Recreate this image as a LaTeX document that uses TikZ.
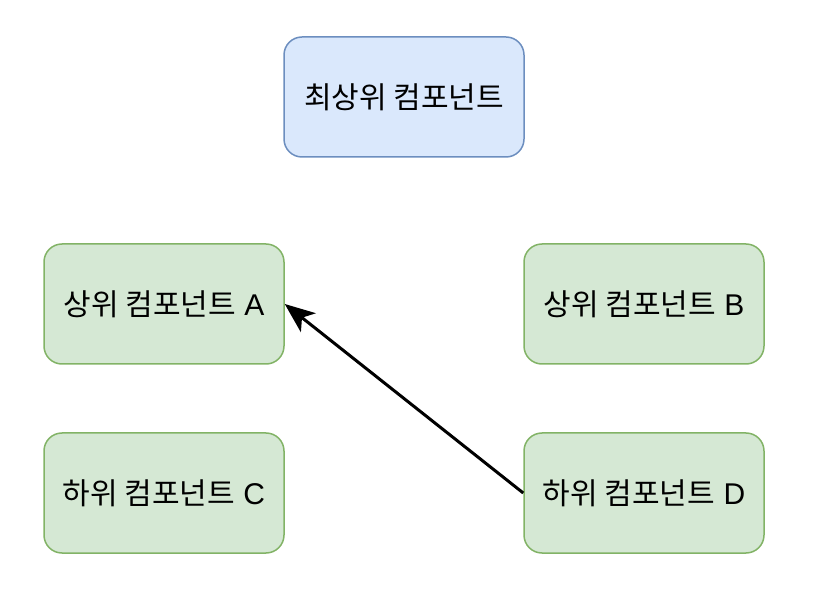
\documentclass[tikz,border=0pt]{standalone}
\usepackage{fontspec}
\setmainfont{Liberation Sans}
\newfontfamily\kr{Noto Sans CJK KR}
\usetikzlibrary{arrows.meta,positioning}
\definecolor{blueFill}{HTML}{DAE8FC}
\definecolor{blueLine}{HTML}{6C8EBF}
\definecolor{greenFill}{HTML}{D5E8D4}
\definecolor{greenLine}{HTML}{82B366}
\tikzset{
  comp/.style={rectangle,rounded corners=18pt,line width=1.5pt,minimum width=240pt,minimum height=120pt,inner sep=0pt,font=\fontsize{30}{34}\selectfont},
  topcomp/.style={comp,draw=blueLine,fill=blueFill},
  subcomp/.style={comp,draw=greenLine,fill=greenFill}
}
\begin{document}
\begin{tikzpicture}[x=1pt,y=-1pt]
\useasboundingbox (0,0) rectangle (814,601);
% boxes
\node (top) [topcomp] at (404,97) {{\kr 최상위 컴포넌트}};
\node (a) [subcomp] at (164,304) {{\kr 상위 컴포넌트} A};
\node (b) [subcomp] at (644,304) {{\kr 상위 컴포넌트} B};
\node (c) [subcomp] at (164,493) {{\kr 하위 컴포넌트} C};
\node (d) [subcomp] at (644,493) {{\kr 하위 컴포넌트} D};
%
\draw[-{Stealth[length=30pt,width=24pt,inset=8pt]},line width=3pt] (d.west) -- (a.east);
%
\end{tikzpicture}
\end{document}
